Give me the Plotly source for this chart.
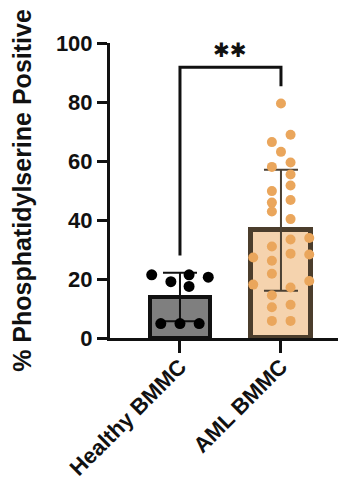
import plotly.graph_objects as go

# ---- data ----
categories = ["Healthy BMMC", "AML BMMC"]
bar_means = [13.9, 36.5]
bar_sd = [8.2, 20.5]

healthy_values = [21.4, 19.1, 21.4, 20.6, 17.5, 4.9, 4.9, 4.9]
healthy_jitter = [-0.28, -0.09, 0.09, 0.28, 0.09, -0.19, 0.0, 0.19]

aml_values = [79.5, 68.9, 66.4, 63.1, 58.0, 59.5, 55.4, 51.7, 49.8, 46.8,
              45.9, 42.9, 40.3, 33.4, 33.9, 31.0, 27.3, 28.6, 28.3, 26.2,
              21.8, 18.1, 19.3, 17.1, 14.5, 11.3, 10.4, 5.8, 5.8]
aml_jitter = [0.0, 0.095, -0.09, 0.0, -0.09, 0.095, 0.095, 0.095, -0.09, 0.095,
              -0.09, -0.09, 0.095, 0.095, 0.28, -0.09, -0.275, 0.095, 0.28, -0.09,
              -0.09, -0.275, 0.28, 0.095, -0.09, 0.095, -0.09, -0.09, 0.095]

bracket_x = [0, 0, 1, 1]
bracket_y = [28, 91.8, 91.8, 85.3]
sig_label = "✱✱"
sig_y = 97.5

y_ticks = [0, 20, 40, 60, 80, 100]

fill_colors = ["#7f7f7f", "#f5d3ae"]
edge_colors = ["#111111", "#4b3d2c"]
edge_widths = [4, 5]
err_colors = ["#111111", "#4b4033"]
dot_colors = ["#000000", "#eaa65c"]
dot_sizes = [11, 10]

FONT = "Liberation Sans, Arial, sans-serif"

fig = go.Figure()
for i in range(2):
    fig.add_trace(go.Bar(
        x=[i], y=[bar_means[i]], width=0.6,
        marker=dict(color=fill_colors[i], line=dict(color=edge_colors[i], width=edge_widths[i])),
        error_y=dict(type="data", array=[bar_sd[i]], visible=True,
                     color=err_colors[i], thickness=2, width=17),
        showlegend=False, hoverinfo="skip"))

fig.add_trace(go.Scatter(
    x=[0 + j for j in healthy_jitter], y=healthy_values, mode="markers",
    marker=dict(color=dot_colors[0], size=dot_sizes[0]), showlegend=False))
fig.add_trace(go.Scatter(
    x=[1 + j for j in aml_jitter], y=aml_values, mode="markers",
    marker=dict(color=dot_colors[1], size=dot_sizes[1]), showlegend=False))

fig.add_trace(go.Scatter(
    x=bracket_x, y=bracket_y, mode="lines",
    line=dict(color="#111111", width=3), showlegend=False, cliponaxis=False))

fig.add_annotation(x=0.5, y=sig_y, text=sig_label, showarrow=False,
                   font=dict(family="DejaVu Sans", size=20, color="#111111"),
                   xanchor="center", yanchor="middle")

# the page adds an 8px body margin, so margins are offset by 8px
fig.update_layout(
    width=346, height=482,
    margin=dict(l=102, r=8, t=35, b=152),
    plot_bgcolor="white", paper_bgcolor="white",
    bargap=0, barmode="overlay",
    font=dict(family=FONT, color="#111111"),
)
fig.update_xaxes(
    range=[-0.693, 1.644], tickvals=[0, 1], ticktext=categories,
    tickangle=-45, ticks="outside", ticklen=12, tickwidth=3, tickcolor="#111111",
    showline=True, linewidth=3, linecolor="#111111", showgrid=False, zeroline=False,
    tickfont=dict(family=FONT, size=22, weight="bold", color="#111111"),
    automargin=False, ticklabeloverflow="allow",
    ticklabelshift=0, ticklabelstandoff=-8,
)
fig.update_yaxes(
    range=[0, 100], tickvals=y_ticks, ticks="outside", ticklen=10, tickwidth=3,
    tickcolor="#111111", showline=True, linewidth=3, linecolor="#111111",
    showgrid=False, zeroline=False, automargin=False, ticklabeloverflow="allow",
    tickfont=dict(family=FONT, size=22, weight="bold", color="#111111"),
    title=dict(text="% Phosphatidylserine Positive",
               font=dict(family=FONT, size=25, weight="bold", color="#111111"),
               standoff=20),
)

fig.write_html("out.html")
